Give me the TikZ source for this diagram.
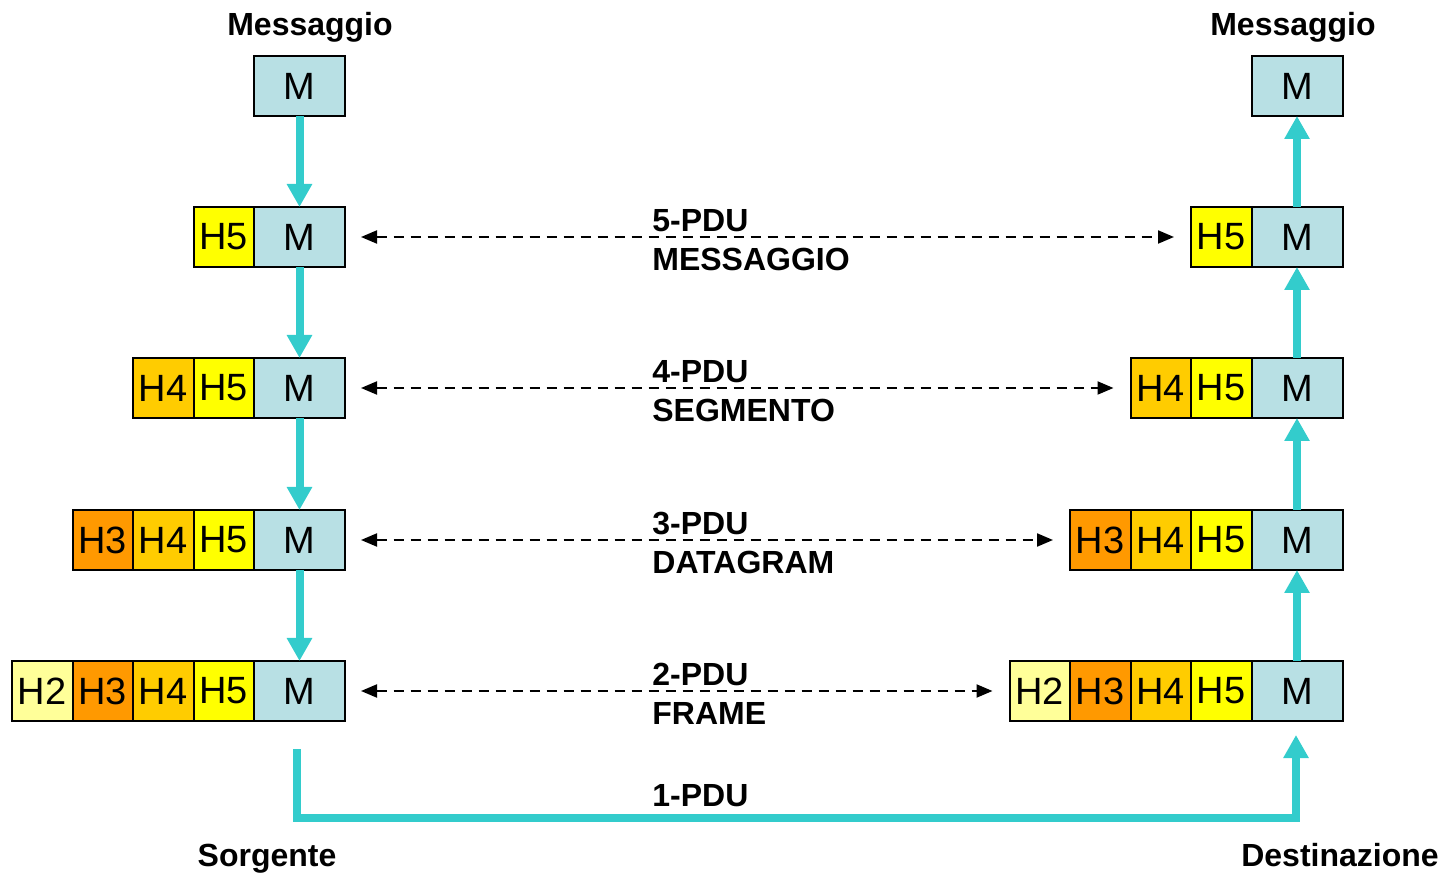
\documentclass[tikz,border=0pt]{standalone}
\usepackage{fontspec}
\setmainfont{Liberation Sans}
\usetikzlibrary{arrows.meta,positioning}
\definecolor{teal2}{RGB}{51,204,204}
\definecolor{mblue}{RGB}{184,224,228}
\definecolor{h5c}{RGB}{255,255,0}
\definecolor{h4c}{RGB}{255,204,0}
\definecolor{h3c}{RGB}{255,153,0}
\definecolor{h2c}{RGB}{255,255,153}
\tikzset{
  box/.style={draw=black, line width=1pt, minimum height=30pt, inner sep=0pt, outer sep=0pt,
    font=\fontsize{19}{21}\selectfont},
  mbox/.style={box, fill=mblue, minimum width=45.5pt},
  hbox/.style={box, minimum width=30.25pt},
  flow/.style={draw=teal2, line width=4pt, -{Triangle[width=12pt,length=11.5pt]}},
  peer/.style={draw=black, line width=1pt, dash pattern=on 5pt off 3.5pt,
    {Triangle[length=8pt,width=6.5pt]}-{Triangle[length=8pt,width=6.5pt]}},
  pdulabel/.style={anchor=west, align=left, inner sep=0pt,
    font=\fontsize{16}{19.5}\selectfont\bfseries},
  title/.style={inner sep=0pt, anchor=base, font=\fontsize{16}{18}\selectfont\bfseries}
}
\begin{document}
\begin{tikzpicture}[x=0.5pt,y=-0.5pt]
\useasboundingbox (0,0) rectangle (1448,877);
% left stack
\node[mbox] (lM1) at (299.5,86) {M};
\node[mbox] (lM2) at (299.5,237) {M};
\node[hbox, fill=h5c, left=0pt of lM2] (lH5b) {H5};
\node[mbox] (lM3) at (299.5,388) {M};
\node[hbox, fill=h5c, left=0pt of lM3] (lH5c) {H5};
\node[hbox, fill=h4c, left=0pt of lH5c] (lH4c) {H4};
\node[mbox] (lM4) at (299.5,540) {M};
\node[hbox, fill=h5c, left=0pt of lM4] (lH5d) {H5};
\node[hbox, fill=h4c, left=0pt of lH5d] (lH4d) {H4};
\node[hbox, fill=h3c, left=0pt of lH4d] (lH3d) {H3};
\node[mbox] (lM5) at (299.5,691) {M};
\node[hbox, fill=h5c, left=0pt of lM5] (lH5e) {H5};
\node[hbox, fill=h4c, left=0pt of lH5e] (lH4e) {H4};
\node[hbox, fill=h3c, left=0pt of lH4e] (lH3e) {H3};
\node[hbox, fill=h2c, left=0pt of lH3e] (lH2e) {H2};
% right stack
\node[mbox] (rM1) at (1297,86) {M};
\node[mbox] (rM2) at (1297,237) {M};
\node[hbox, fill=h5c, left=0pt of rM2] (rH5b) {H5};
\node[mbox] (rM3) at (1297,388) {M};
\node[hbox, fill=h5c, left=0pt of rM3] (rH5c) {H5};
\node[hbox, fill=h4c, left=0pt of rH5c] (rH4c) {H4};
\node[mbox] (rM4) at (1297,540) {M};
\node[hbox, fill=h5c, left=0pt of rM4] (rH5d) {H5};
\node[hbox, fill=h4c, left=0pt of rH5d] (rH4d) {H4};
\node[hbox, fill=h3c, left=0pt of rH4d] (rH3d) {H3};
\node[mbox] (rM5) at (1297,691) {M};
\node[hbox, fill=h5c, left=0pt of rM5] (rH5e) {H5};
\node[hbox, fill=h4c, left=0pt of rH5e] (rH4e) {H4};
\node[hbox, fill=h3c, left=0pt of rH4e] (rH3e) {H3};
\node[hbox, fill=h2c, left=0pt of rH3e] (rH2e) {H2};
% vertical flows
\draw[flow] (lM1.south) -- (lM2.north);
\draw[flow] (lM2.south) -- (lM3.north);
\draw[flow] (lM3.south) -- (lM4.north);
\draw[flow] (lM4.south) -- (lM5.north);
\draw[flow] (rM5.north) -- (rM4.south);
\draw[flow] (rM4.north) -- (rM3.south);
\draw[flow] (rM3.north) -- (rM2.south);
\draw[flow] (rM2.north) -- (rM1.south);
% peer arrows
\draw[peer] ([xshift=8pt]lM2.east) -- ([xshift=-8.5pt]rH5b.west);
\draw[peer] ([xshift=8pt]lM3.east) -- ([xshift=-8.5pt]rH4c.west);
\draw[peer] ([xshift=8pt]lM4.east) -- ([xshift=-8.5pt]rH3d.west);
\draw[peer] ([xshift=8pt]lM5.east) -- ([xshift=-8.5pt]rH2e.west);
% labels
\node[pdulabel] (p5) at (652,240) {5-PDU\\MESSAGGIO};
\node[pdulabel] (p4) at (652,391) {4-PDU\\SEGMENTO};
\node[pdulabel] (p3) at (652,543) {3-PDU\\DATAGRAM};
\node[pdulabel] (p2) at (652,694) {2-PDU\\FRAME};
\node[pdulabel] (p1) at (652,796) {1-PDU};
% physical link
\coordinate (srcs) at (297,749);
\coordinate (bot) at (700,818);
\coordinate (dstt) at (1296,735);
\draw[flow, line join=miter] (srcs) |- (bot) -| (dstt);
% titles
\node[title] (t1) at (310,36) {Messaggio};
\node[title] (t2) at (1293,36) {Messaggio};
\node[title] (t3) at (267,866) {Sorgente};
\node[title] (t4) at (1340,866) {Destinazione};
\end{tikzpicture}
\end{document}
